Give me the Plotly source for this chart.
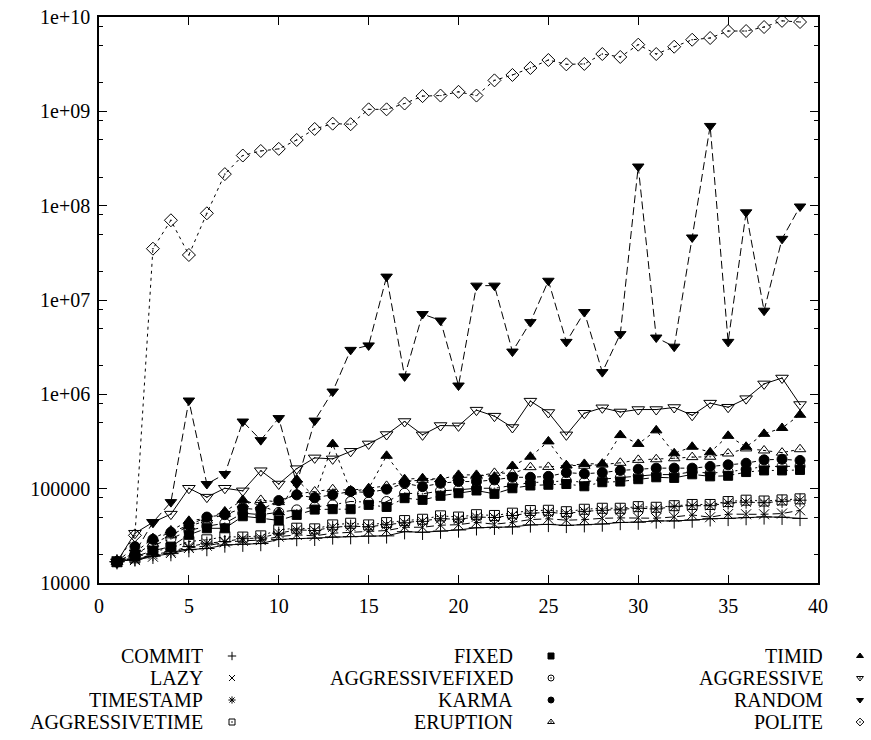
import plotly.graph_objects as go

# ---------------- data ----------------
steps = list(range(1, 40))

series_names = ["COMMIT", "LAZY", "TIMESTAMP", "AGGRESSIVETIME",
                "FIXED", "AGGRESSIVEFIXED", "KARMA", "ERUPTION",
                "TIMID", "AGGRESSIVE", "RANDOM", "POLITE"]

commit = [16800, 18000, 19200, 20500, 22600, 23200, 25300, 25800, 26200, 29000,
          29600, 29800, 30800, 31000, 31400, 31600, 35000, 34500, 35500, 36500,
          38500, 39000, 39300, 41300, 41800, 40800, 41500, 42200, 43800, 44200,
          45500, 45500, 46500, 48000, 48400, 49400, 50200, 49800, 48400]
lazy = [16800, 17500, 19000, 20800, 23500, 24800, 27000, 28000, 28500, 31000,
        32400, 31600, 33700, 34500, 35500, 36000, 39000, 39000, 41000, 41500,
        44000, 42000, 44000, 47000, 48000, 46300, 47000, 48500, 49000, 49200,
        48600, 50200, 52700, 49800, 53800, 53500, 53500, 54500, 59000]
timestamp = [16800, 17800, 20000, 21500, 24300, 26400, 27500, 29500, 30000, 33700,
             36600, 36000, 39000, 40000, 39500, 41500, 43500, 45000, 48000, 47500,
             50000, 49500, 52000, 55000, 56000, 54500, 57500, 59000, 59500, 62000,
             61000, 64500, 66000, 66000, 70500, 72000, 71000, 73500, 75500]
aggressivetime = [16800, 18500, 21500, 23500, 27500, 28700, 31000, 30700, 31600, 36600,
                  38100, 37500, 41300, 43000, 41300, 43700, 45900, 47400, 51500, 50000,
                  53000, 52000, 55000, 58600, 59000, 57000, 60500, 62000, 62000, 64500,
                  63500, 66000, 68000, 68000, 73000, 75500, 74000, 76000, 78000]
fixed = [16800, 19000, 22000, 24300, 32400, 38000, 38000, 51000, 48700, 46000,
         52700, 60000, 60600, 60600, 67300, 64000, 79300, 76100, 84000, 89500,
         95600, 88100, 101000, 108000, 110000, 112000, 106000, 117000, 119000, 126000,
         132000, 130000, 142000, 135000, 137000, 150000, 156000, 156000, 158000]
aggressivefixed = [16800, 20000, 25000, 29400, 36000, 40000, 43000, 55000, 53000, 56000,
                   59600, 64000, 67300, 73100, 72000, 73100, 89500, 88100, 94800, 97100,
                   101000, 101000, 109000, 116000, 118000, 121000, 117000, 126000, 131000, 137000,
                   141000, 141000, 151000, 146000, 151000, 160000, 172000, 172000, 173000]
karma = [16800, 24300, 29000, 34500, 41000, 50000, 53000, 62100, 59600, 74800,
         86000, 80000, 86000, 93300, 91000, 98700, 114000, 105000, 114000, 119000,
         119000, 124000, 132000, 132000, 135000, 148000, 144000, 148000, 156000, 161000,
         165000, 165000, 165000, 172000, 179000, 186000, 202000, 205000, 199000]
eruption = [16800, 20000, 26000, 32000, 40000, 46000, 54000, 68000, 76000, 72000,
            88000, 93300, 98700, 96000, 101000, 107000, 120000, 124000, 126000, 130000,
            135000, 147000, 145000, 169000, 170000, 177000, 175000, 180000, 188000, 202000,
            205000, 210000, 216000, 218000, 236000, 267000, 254000, 241000, 262000]
timid = [16800, 21000, 29900, 36000, 45600, 48500, 57300, 76000, 66000, 56000,
         125000, 82000, 297000, 93000, 100000, 223000, 126000, 129000, 126000, 140000,
         140000, 134000, 174000, 218000, 317000, 176000, 183000, 184000, 370000, 298000,
         415000, 237000, 278000, 243000, 363000, 278000, 381000, 440000, 607000]
aggressive = [16800, 33700, 44000, 53700, 101000, 81300, 101000, 94800, 155000, 112000,
              163000, 212000, 207000, 249000, 298000, 375000, 515000, 372000, 467000, 463000,
              680000, 587000, 445000, 847000, 642000, 372000, 630000, 720000, 650000, 690000,
              690000, 725000, 600000, 807000, 730000, 900000, 1290000, 1490000, 780000]
random_ = [16800, 21000, 44000, 72000, 860000, 112000, 143000, 515000, 327000, 560000,
           112000, 527000, 1070000, 2960000, 3300000, 17700000, 1550000, 7100000, 6060000, 1240000,
           14200000, 14200000, 2840000, 5830000, 16000000, 3600000, 7450000, 1720000, 4350000, 260000000,
           4000000, 3200000, 46000000, 700000000, 3600000, 85000000, 7700000, 44500000, 98000000]
polite = [16800, 32000, 35000000, 70000000, 30000000, 83000000, 216000000, 340000000, 380000000, 400000000,
          497000000, 650000000, 740000000, 730000000, 1050000000, 1050000000, 1210000000, 1450000000, 1470000000, 1610000000,
          1470000000, 2130000000, 2430000000, 2880000000, 3500000000, 3150000000, 3180000000, 4050000000, 3770000000, 5090000000,
          4050000000, 4840000000, 5740000000, 5990000000, 7100000000, 7100000000, 7830000000, 9100000000, 8850000000]

series_values = [commit, lazy, timestamp, aggressivetime, fixed, aggressivefixed,
                 karma, eruption, timid, aggressive, random_, polite]

x_tick_vals = [0, 5, 10, 15, 20, 25, 30, 35, 40]
y_tick_vals = [1e4, 1e5, 1e6, 1e7, 1e8, 1e9, 1e10]
y_tick_text = ["10000", "100000", "1e+06", "1e+07", "1e+08", "1e+09", "1e+10"]

# ---------------- styles ----------------
symbols = ["cross-thin-open", "x-thin-open", "asterisk-open", "square-open-dot",
           "square", "circle-open-dot", "circle", "triangle-up-open-dot",
           "triangle-up", "triangle-down-open-dot", "triangle-down", "diamond-open-dot"]
dashes = ["solid", "8px,4px", "4px,5px", "2px,3px",
          "10px,4px,2px,4px", "8px,5px,2px,5px", "4px,3px,4px,7px", "3px,3px,3px,3px,3px,7px",
          "3px,4px", "solid", "8px,4px", "3px,4px"]
msizes = [11, 10, 11, 10, 9, 10, 10, 10, 10, 11, 10, 10]

FONT = "Liberation Serif"
W, H = 871, 740
PL, PR, PT, PB = 99, 818, 17, 583

fig = go.Figure()
for name, vals, sym, dash, ms in zip(series_names, series_values, symbols, dashes, msizes):
    fig.add_trace(go.Scatter(
        x=steps, y=vals, mode="lines+markers", name=name, showlegend=False,
        line=dict(color="black", width=1, dash=dash),
        marker=dict(symbol=sym, size=ms, color="black",
                    line=dict(color="black", width=1)),
        xaxis="x", yaxis="y"))

# ---------------- custom legend (text left, symbol right) ----------------
col_text_x = [204, 514, 824]
col_sym_x = [232, 551, 860]
row_y = [656, 678, 700, 722]
annotations = []
for i, (name, sym) in enumerate(zip(series_names, symbols)):
    c, r = divmod(i, 4)
    annotations.append(dict(x=col_text_x[c], y=row_y[r], xref="x2", yref="y2",
                            text=name, showarrow=False, xanchor="right", yanchor="middle",
                            height=20, valign="middle", borderpad=0,
                            font=dict(family=FONT, size=20, color="black")))
    fig.add_trace(go.Scatter(
        x=[col_sym_x[c]], y=[row_y[r]], mode="markers", showlegend=False,
        marker=dict(symbol=sym, size=6, color="black", line=dict(color="black", width=1)),
        xaxis="x2", yaxis="y2", hoverinfo="skip"))

minor_vals = [m * 10 ** e for e in range(4, 10) for m in (2, 5, 8)]

axis_common = dict(showline=True, linecolor="black", linewidth=1.5, mirror="ticks",
                   ticks="inside", ticklen=8, tickwidth=1, tickcolor="black",
                   showgrid=False, zeroline=False, automargin=False,
                   tickfont=dict(family=FONT, size=20, color="black"))

fig.update_layout(
    width=W, height=H,
    margin=dict(l=0, r=0, t=0, b=0, pad=0, autoexpand=False),
    paper_bgcolor="white", plot_bgcolor="rgba(0,0,0,0)",
    xaxis=dict(domain=[PL / W, PR / W], range=[0, 40], tickvals=x_tick_vals,
               anchor="y", ticklabelstandoff=4, **axis_common),
    yaxis=dict(domain=[(H - PB) / H, (H - PT) / H], type="log", range=[4, 10],
               tickvals=y_tick_vals, ticktext=y_tick_text, anchor="x",
               ticklabelstandoff=3,
               minor=dict(tickvals=minor_vals, ticks="inside", ticklen=4,
                          tickcolor="black", tickwidth=1),
               **axis_common),
    xaxis2=dict(domain=[0, 1], range=[0, W], visible=False, anchor="y2",
                fixedrange=True, automargin=False),
    yaxis2=dict(domain=[0, 1], range=[H, 0], visible=False, anchor="x2",
                fixedrange=True, automargin=False),
    annotations=annotations,
    showlegend=False,
)

fig.write_html("out.html")
